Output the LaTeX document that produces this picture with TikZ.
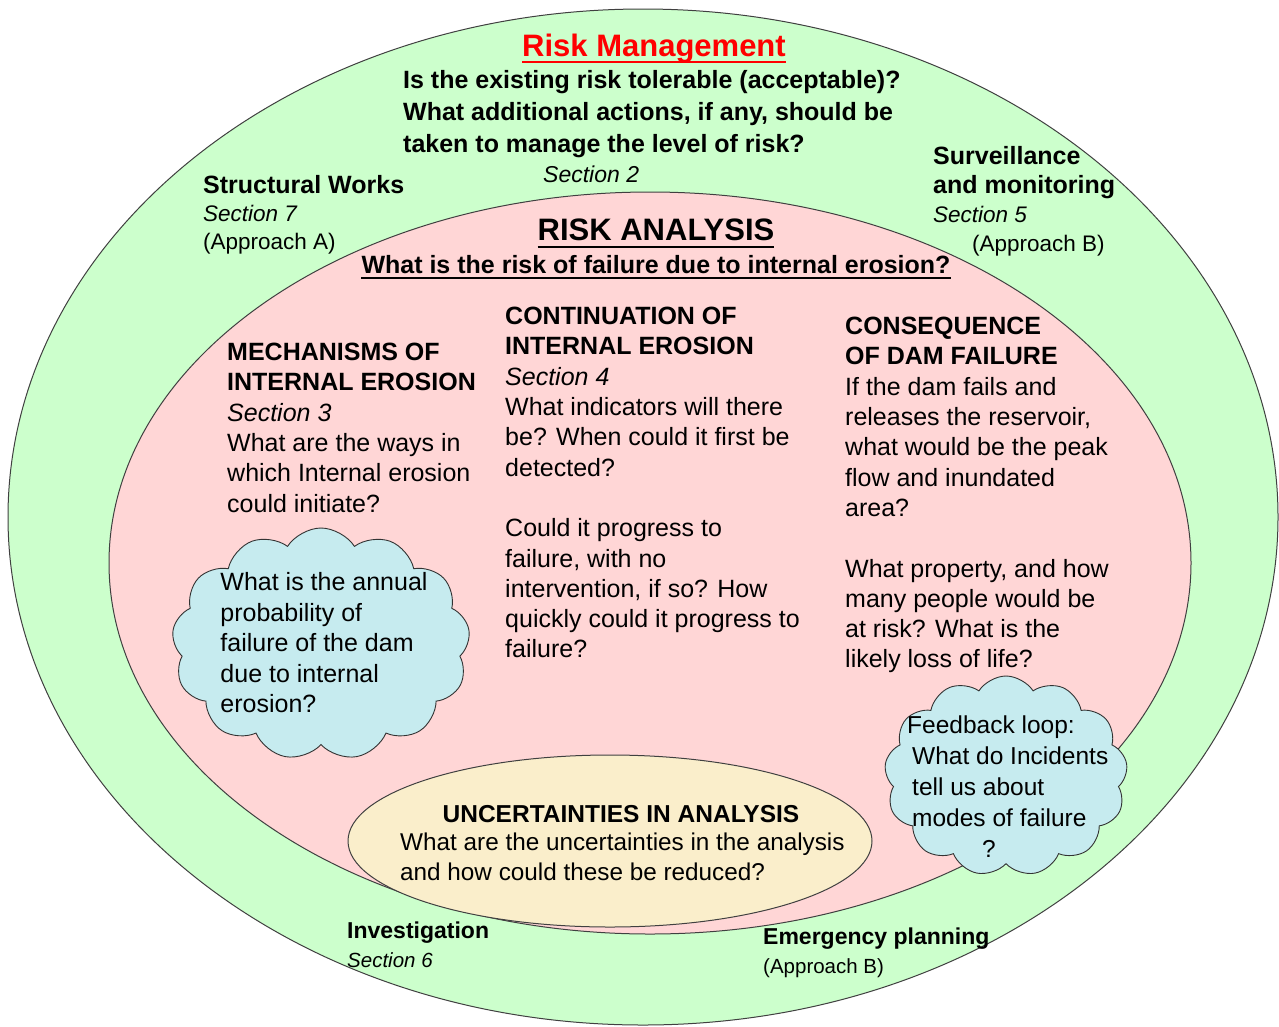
\documentclass[tikz,border=0pt]{standalone}
\usepackage{fontspec}
\setmainfont{Liberation Sans}
\usetikzlibrary{shapes.symbols}
\definecolor{ringgreen}{HTML}{CCFFCC}
\definecolor{analysispink}{HTML}{FFD6D6}
\definecolor{cloudblue}{HTML}{C6EBEF}
\definecolor{uncream}{HTML}{FAEECB}
\newcommand\headfont{\fontsize{25}{30}\selectfont\bfseries}

\begin{document}
\begin{tikzpicture}[x=1pt,y=-1pt,
  ring/.style={draw=black!75,line width=1pt},
  body/.style={inner sep=0,anchor=north west,align=left,font=\fontsize{25}{30.3}\selectfont},
  title/.style={inner sep=0,anchor=base,font=\fontsize{31}{36}\selectfont\bfseries},
  puff/.style={draw=black!80,line width=.9pt,fill=cloudblue,shape=cloud,cloud puffs=13,cloud puff arc=115,cloud ignores aspect,inner sep=0}]
\useasboundingbox (0,0) rectangle (1279,1026);
\fill[white] (0,0) rectangle (1279,1026);
\draw[ring,fill=ringgreen] (643,517) ellipse [x radius=635,y radius=508];
\draw[ring,fill=analysispink] (650,563) ellipse [x radius=541,y radius=371];
\draw[ring,fill=uncream] (610,841) ellipse [x radius=262,y radius=86];
\node[puff,minimum width=298,minimum height=232] (annual) at (321,644) {};
\node[puff,minimum width=243,minimum height=200] (feedback) at (1006,776) {};

\node[title,text=red,text depth=6pt] (rmtitle) at (654,56) {Risk Management};
\draw[red,line width=2pt] (rmtitle.south west) -- (rmtitle.south east);
\node[body,font=\fontsize{25}{32}\selectfont\bfseries] (tolerable) at (403,70) {Is the existing risk tolerable (acceptable)?\\What additional actions, if any, should be\\taken to manage the level of risk?};
\node[body,font=\fontsize{23}{28}\selectfont\itshape] (sec2) at (543,166) {Section 2};
\node[body,font=\fontsize{22.5}{28}\selectfont] (structural) at (203,175) {{\headfont Structural Works}\\\textit{Section 7}\\(Approach A)};
\node[body,font=\fontsize{22.5}{29}\selectfont] (surveillance) at (933,146) {{\headfont Surveillance}\\{\headfont and monitoring}\\\textit{Section 5}\\\hspace*{39pt}(Approach B)};

\node[title,text depth=7pt] (riskan) at (656,240) {RISK ANALYSIS};
\draw[line width=2pt] (riskan.south west) -- (riskan.south east);
\node[title,font=\headfont,text depth=5pt] (riskq) at (656,273) {What is the risk of failure due to internal erosion?};
\draw[line width=1.5pt] (riskq.south west) -- (riskq.south east);

\node[body] (mechanisms) at (227,343) {{\headfont MECHANISMS OF}\\{\headfont INTERNAL EROSION}\\\textit{Section 3}\\What are the ways in\\which Internal erosion\\could initiate?};
\node[body] (continuation) at (505,307) {{\headfont CONTINUATION OF}\\{\headfont INTERNAL EROSION}\\\textit{Section 4}\\What indicators will there\\be? When could it first be\\detected?\\[30.3pt]Could it progress to\\failure, with no\\intervention, if so? How\\quickly could it progress to\\failure?};
\node[body] (consequence) at (845,317) {{\headfont CONSEQUENCE}\\{\headfont OF DAM FAILURE}\\If the dam fails and\\releases the reservoir,\\what would be the peak\\flow and inundated\\area?\\[30.3pt]What property, and how\\many people would be\\at risk? What is the\\likely loss of life?};

\node[body,anchor=center,font=\fontsize{25}{30.5}\selectfont] (annualtext) at (324,643) {What is the annual\\probability of\\failure of the dam\\due to internal\\erosion?};
\node[body,font=\fontsize{24.5}{31}\selectfont] (feedbacktext) at (907,716) {Feedback loop:\\\hspace*{5pt}What do Incidents\\\hspace*{5pt}tell us about\\\hspace*{5pt}modes of failure\\\hspace*{75pt}?};

\node[title,font=\fontsize{24.5}{30}\selectfont\bfseries] (unchead) at (621,822) {UNCERTAINTIES IN ANALYSIS};
\node[body,font=\fontsize{24.3}{30}\selectfont] (unctext) at (400,833) {What are the uncertainties in the analysis\\and how could these be reduced?};

\node[body,font=\fontsize{20.5}{29}\selectfont] (investigation) at (347,922) {{\fontsize{23}{29}\selectfont\bfseries Investigation}\\\textit{Section 6}};
\node[body,font=\fontsize{20.5}{29}\selectfont] (emergency) at (763,928) {{\fontsize{23}{29}\selectfont\bfseries Emergency planning}\\(Approach B)};
\end{tikzpicture}
\end{document}
